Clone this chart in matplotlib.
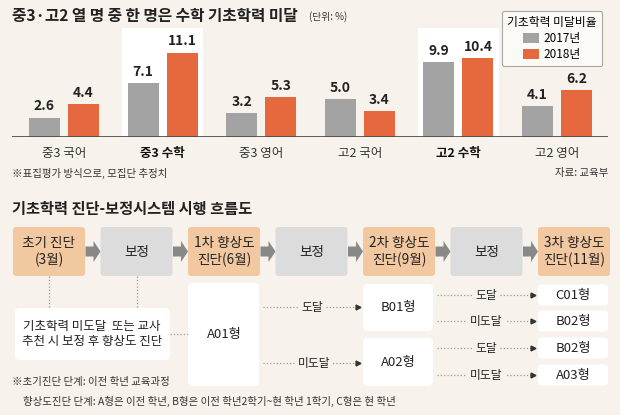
import matplotlib
matplotlib.use('Agg')
import matplotlib.pyplot as plt
from matplotlib.patches import FancyBboxPatch, FancyArrow

plt.rcParams['font.family'] = ['Noto Sans CJK KR', 'DejaVu Sans']

# --- data ---
categories = ['중3 국어', '중3 수학', '중3 영어', '고2 국어', '고2 수학', '고2 영어']
values_2017 = [2.6, 7.1, 3.2, 5.0, 9.9, 4.1]
values_2018 = [4.4, 11.1, 5.3, 3.4, 10.4, 6.2]
highlight = [False, True, False, False, True, False]
series_names = ['2017년', '2018년']

steps = ['초기 진단\n(3월)', '보정', '1차 향상도\n진단(6월)', '보정',
         '2차 향상도\n진단(9월)', '보정', '3차 향상도\n진단(11월)']
step_kind = ['diag', 'fix', 'diag', 'fix', 'diag', 'fix', 'diag']
stage2_types = ['B01형', 'A02형']
stage3_types = ['C01형', 'B02형', 'B02형', 'A03형']
branch_labels = ['도달', '미도달']

BG = '#f7f3ec'
GRAY = '#a3a3a3'
ORANGE = '#e6683f'
PEACH = '#f2c8a0'
LIGHT = '#dcdcdc'
DOT = '#9a9a9a'

fig = plt.figure(figsize=(6.2, 4.15), dpi=100, facecolor=BG)

# overlay axes in pixel units (y downward)
ov = fig.add_axes([0, 0, 1, 1], zorder=0)
ov.set_xlim(0, 620)
ov.set_ylim(415, 0)
ov.axis('off')

# --- bar chart ---
px_per_unit = 7.65
base_y = 137.5
ax = fig.add_axes([12 / 620, 1 - base_y / 415, 596 / 620, 117.5 / 415], zorder=1)
ax.patch.set_alpha(0)
ax.set_xlim(-0.527, 5.517)
ax.set_ylim(0, 117.5 / px_per_unit)
for s in ax.spines.values():
    s.set_visible(False)

x = list(range(len(categories)))
for i, h in enumerate(highlight):
    if h:
        ax.bar(i, (base_y - 28) / px_per_unit, width=0.82, color='white', zorder=0)

off = 0.198
w = 0.314
b1 = ax.bar([i - off for i in x], values_2017, width=w, color=GRAY, zorder=2, label=series_names[0])
b2 = ax.bar([i + off for i in x], values_2018, width=w, color=ORANGE, zorder=2, label=series_names[1])
for i in x:
    ax.text(i - off, values_2017[i] + 0.55, f'{values_2017[i]:.1f}', ha='center', va='bottom',
            fontsize=10, fontweight='bold', color='#222')
    ax.text(i + off, values_2018[i] + 0.55, f'{values_2018[i]:.1f}', ha='center', va='bottom',
            fontsize=10, fontweight='bold', color='#222')
ax.axhline(0, color='#4d4d4d', lw=2, zorder=3)

ax.set_yticks([])
ax.set_xticks(x)
ax.set_xticklabels(categories, fontsize=9, color='#333')
ax.tick_params(axis='x', length=0, pad=7)
for lbl, h in zip(ax.get_xticklabels(), highlight):
    if h:
        lbl.set_fontweight('bold')
        lbl.set_color('#111')

leg = ax.legend(handles=[b1, b2], title='기초학력 미달비율', loc='upper right',
                bbox_to_anchor=(608 / 620, 1 - 5 / 415), bbox_transform=fig.transFigure,
                fontsize=8.5, title_fontsize=8.5, handlelength=1.4, handleheight=1.0,
                handletextpad=0.4, labelspacing=0.25, borderpad=0.45, fancybox=True,
                framealpha=1, facecolor='#fbfaf7', edgecolor='#a8a8a8')
leg.get_frame().set_linewidth(0.8)

# titles and notes
ov.text(12, 16, '중3·고2 열 명 중 한 명은 수학 기초학력 미달', fontsize=11.3, fontweight='bold',
        color='#222', va='center', ha='left')
ov.text(309, 17, '(단위: %)', fontsize=7, color='#333', va='center', ha='left')
ov.text(12, 173, '※표집평가 방식으로, 모집단 추정치', fontsize=7.5, color='#333', va='center')
ov.text(608, 173, '자료: 교육부', fontsize=7.5, color='#333', va='center', ha='right')

ov.text(12, 209, '기초학력 진단-보정시스템 시행 흐름도', fontsize=11, fontweight='bold',
        color='#222', va='center', ha='left')

# --- flow chart ---
def box(x0, y0, x1, y1, fc, r=4):
    p = FancyBboxPatch((x0 + r, y0 + r), x1 - x0 - 2 * r, y1 - y0 - 2 * r,
                       boxstyle=f'round,pad={r}', fc=fc, ec='none')
    ov.add_patch(p)

top, bot = 227, 276
mid = (top + bot) / 2
for k, (txt, kind) in enumerate(zip(steps, step_kind)):
    x0 = 13 + k * 87.5
    box(x0, top, x0 + 72, bot, PEACH if kind == 'diag' else LIGHT, r=3)
    ov.text(x0 + 36, mid, txt, ha='center', va='center', fontsize=9.8, color='#222',
            linespacing=1.2)
    if k < len(steps) - 1:
        ov.add_patch(FancyArrow(x0 + 72.5, mid, 15, 0, width=10, head_width=21, head_length=7,
                                length_includes_head=True, fc='#888888', ec='none'))

# vertical dotted links
for xv in (49, 137):
    ov.plot([xv, xv], [bot, 308], ls=':', color=DOT, lw=0.9)

box(15, 308, 170, 360, 'white', r=5)
ov.text(92, 334, '기초학력 미도달  또는 교사\n추천 시 보정 후 향상도 진단', ha='center', va='center',
        fontsize=9, color='#222', linespacing=1.25)
ov.plot([170, 188], [334, 334], ls=':', color=DOT, lw=0.9)

box(188, 283, 259, 386, 'white', r=5)
ov.text(224, 334, 'A01형', ha='center', va='center', fontsize=9.5, color='#222')

stage2_y = [(284, 331), (338, 386)]
for (y0, y1), t in zip(stage2_y, stage2_types):
    box(363, y0, 433, y1, 'white', r=5)
    ov.text(398, (y0 + y1) / 2, t, ha='center', va='center', fontsize=9.5, color='#222')

stage3_y = [295, 321, 348, 375]
for yc, t in zip(stage3_y, stage3_types):
    box(538, yc - 10.5, 608, yc + 10.5, 'white', r=4)
    ov.text(573, yc, t, ha='center', va='center', fontsize=9.5, color='#222')


def link(x0, x1, y, label, xl):
    ov.plot([x0, x1], [y, y], ls=':', color=DOT, lw=0.9, zorder=1)
    ov.plot([x1], [y], marker='>', ms=3.5, color='#333', zorder=2)
    ov.text(xl, y, label, ha='center', va='center', fontsize=8.5, color='#222', zorder=3,
            bbox=dict(boxstyle='square,pad=0.25', fc=BG, ec='none'))


link(263, 358, 307, branch_labels[0], 312)
link(263, 358, 363, branch_labels[1], 314)
for j, yc in enumerate(stage3_y):
    link(437, 533, yc, branch_labels[j % 2], 486)

ov.text(12, 382, '※초기진단 단계: 이전 학년 교육과정', fontsize=7.5, color='#333', va='center')
ov.text(23, 401, '향상도진단 단계: A형은 이전 학년, B형은 이전 학년2학기~현 학년 1학기, C형은 현 학년',
        fontsize=7.5, color='#333', va='center')

fig.savefig('out.png', dpi=100, facecolor=BG)
